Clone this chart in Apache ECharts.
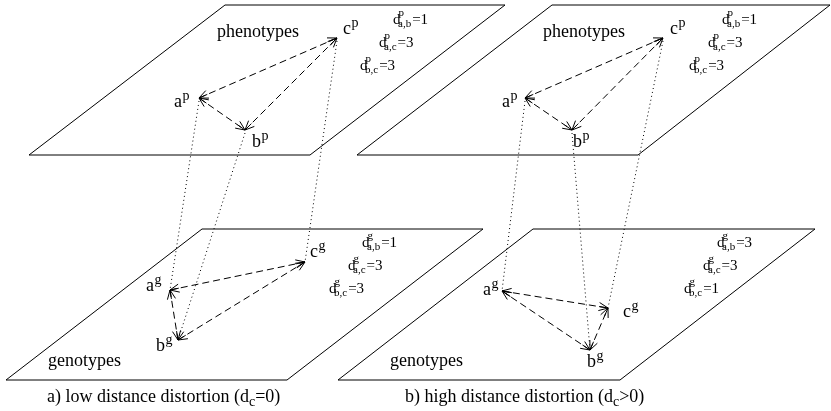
<!DOCTYPE html>
<html>
<head>
<meta charset="utf-8">
<script src="https://cdn.jsdelivr.net/npm/echarts@6/dist/echarts.min.js"></script>
<style>
  html, body { margin: 0; padding: 0; background: #fff; }
  #chart { width: 831px; height: 411px; }
</style>
</head>
<body>
<div id="chart"></div>
<script>
// ---- diagram data (plane units: x to the right, y downward) ----
const nodeNames = ['a', 'b', 'c'];
const pairs = [[0, 1], [0, 2], [1, 2]];
const pairNames = ['a,b', 'a,c', 'b,c'];

// node positions: phenotype layer and genotype layer of each panel
const phenoA = [[199, 98], [245, 130], [337, 38]];
const genoA  = [[170, 290], [178, 340], [305, 262]];
const phenoB = [[525, 98], [572, 130], [663, 38]];
const genoB  = [[502, 291], [590, 350], [608, 308]];

// pairwise distances (a,b), (a,c), (b,c)
const distPhenoA = [1, 3, 3];
const distGenoA  = [1, 3, 3];
const distPhenoB = [1, 3, 3];
const distGenoB  = [3, 3, 1];

// plane outlines
const planePhenoA = [[225, 5], [505, 5], [310, 155], [29, 155]];
const planeGenoA  = [[202, 229], [483, 229], [287, 380], [6, 380]];
const planePhenoB = [[552, 5], [830, 5], [638, 155], [357, 155]];
const planeGenoB  = [[533, 229], [815, 229], [620, 380], [338, 380]];

const layerTitles = ['phenotypes', 'genotypes'];
const captions = [
  ['a) low distance distortion (d', 'c', '=0)'],
  ['b) high distance distortion (d', 'c', '>0)']
];

// ---- layers assembled from the arrays above ----
const layers = [
  { nodes: phenoA, dist: distPhenoA, plane: planePhenoA, tag: 'p' },
  { nodes: genoA,  dist: distGenoA,  plane: planeGenoA,  tag: 'g' },
  { nodes: phenoB, dist: distPhenoB, plane: planePhenoB, tag: 'p' },
  { nodes: genoB,  dist: distGenoB,  plane: planeGenoB,  tag: 'g' }
];
const projections = [[0, 1], [2, 3]];

// ---- layout (pixel offsets for text) ----
const FONT = '"Liberation Serif", "DejaVu Serif", serif';
const labelShift = [
  [[-25, 10], [7, 18], [6, -3]],
  [[-24, 2], [-22, 12], [5, -4]],
  [[-23, 10], [1, 18], [7, -3]],
  [[-19, 5], [-3, 18], [15, 10]]
];
const distAnchor = [[393, 25], [362, 248], [722, 25], [717, 248]];
const distRowDx = [0, -14, -33];
const distRowDy = [0, 23, 46];
const titleAnchor = [[217, 38], [48, 367], [543, 38], [390, 367]];
const captionAnchor = [[47, 403], [405, 403]];

const measureCtx = document.createElement('canvas').getContext('2d');
function textWidth(str, size) {
  measureCtx.font = size + 'px ' + FONT;
  return measureCtx.measureText(str).width;
}
// text element placed by its left edge and alphabetic baseline
function txt(str, x, baseline, size) {
  return {
    type: 'text',
    style: {
      text: str, x: x, y: baseline - 0.34 * size,
      fill: '#000', fontSize: size, fontFamily: FONT,
      align: 'left', verticalAlign: 'middle'
    }
  };
}

function arrowHead(tip, from) {
  const len = 10, ang = 0.42;
  const dx = from[0] - tip[0], dy = from[1] - tip[1];
  const d = Math.hypot(dx, dy);
  const ux = dx / d, uy = dy / d;
  const rot = (a) => [tip[0] + len * (ux * Math.cos(a) - uy * Math.sin(a)),
                      tip[1] + len * (ux * Math.sin(a) + uy * Math.cos(a))];
  return [
    { type: 'polyline', shape: { points: [rot(ang), tip, rot(-ang)] },
      style: { stroke: '#000', fill: null, lineWidth: 1 } },
    { type: 'line', shape: { x1: tip[0], y1: tip[1], x2: tip[0] + len * 0.9 * ux, y2: tip[1] + len * 0.9 * uy },
      style: { stroke: '#000', lineWidth: 1 } }
  ];
}

const idx = (n) => Array.from({ length: n }, (_, i) => [i, 0]);

const chart = echarts.init(document.getElementById('chart'), null, { renderer: 'canvas' });

const option = {
  animation: false,
  backgroundColor: '#fff',
  grid: { left: 0, right: 0, top: 0, bottom: 0 },
  xAxis: { type: 'value', min: 0, max: 831, show: false },
  yAxis: { type: 'value', min: 0, max: 411, inverse: true, show: false },
  series: [
    // plane outlines
    {
      type: 'custom', silent: true, clip: false,
      data: idx(layers.length),
      renderItem: (params, api) => {
        const pts = layers[params.dataIndex].plane.map((p) => api.coord(p));
        return { type: 'polygon', shape: { points: pts },
                 style: { stroke: '#000', fill: null, lineWidth: 1 } };
      }
    },
    // dotted projections from phenotype nodes to genotype nodes
    {
      type: 'custom', silent: true, clip: false,
      data: idx(projections.length),
      renderItem: (params, api) => {
        const [top, bot] = projections[params.dataIndex];
        return {
          type: 'group',
          children: nodeNames.map((_, k) => {
            const p = api.coord(layers[top].nodes[k]);
            const q = api.coord(layers[bot].nodes[k]);
            return { type: 'line', shape: { x1: p[0], y1: p[1] + 3, x2: q[0], y2: q[1] },
                     style: { stroke: '#000', lineWidth: 1, lineDash: [1, 3] } };
          })
        };
      }
    },
    // dashed double-headed distance arrows
    {
      type: 'custom', silent: true, clip: false,
      data: idx(layers.length),
      renderItem: (params, api) => {
        const nodes = layers[params.dataIndex].nodes.map((p) => api.coord(p));
        const children = [];
        pairs.forEach(([i, j]) => {
          const p = nodes[i], q = nodes[j];
          children.push({ type: 'line', shape: { x1: p[0], y1: p[1], x2: q[0], y2: q[1] },
                          style: { stroke: '#000', lineWidth: 1, lineDash: [7, 4] } });
          children.push(...arrowHead(p, q), ...arrowHead(q, p));
        });
        return { type: 'group', children: children };
      }
    },
    // node labels, layer titles and distance tables
    {
      type: 'custom', silent: true, clip: false,
      data: idx(layers.length),
      renderItem: (params, api) => {
        const li = params.dataIndex;
        const layer = layers[li];
        const children = [];
        layer.nodes.forEach((p, k) => {
          const c = api.coord(p);
          const x = c[0] + labelShift[li][k][0];
          const y = c[1] + labelShift[li][k][1];
          children.push(txt(nodeNames[k], x, y, 18));
          children.push(txt(layer.tag, x + textWidth(nodeNames[k], 18) + 0.5, y - 7, 14));
        });
        const t = api.coord([0, 0]);
        children.push(txt(layerTitles[li % 2], titleAnchor[li][0] + t[0], titleAnchor[li][1] + t[1], 18));
        layer.dist.forEach((v, r) => {
          const x = distAnchor[li][0] + distRowDx[r] + t[0];
          const y = distAnchor[li][1] + distRowDy[r] + t[1];
          children.push(txt('d', x, y, 15));
          children.push(txt(layer.tag, x + 5.5, y - 8, 11));
          children.push(txt(pairNames[r], x + 5, y + 3, 11));
          children.push(txt('=' + v, x + 5 + textWidth(pairNames[r], 11) + 1, y, 15));
        });
        return { type: 'group', children: children };
      }
    },
    // panel captions
    {
      type: 'custom', silent: true, clip: false,
      data: idx(captions.length),
      renderItem: (params, api) => {
        const [head, sub, tail] = captions[params.dataIndex];
        const t = api.coord([0, 0]);
        const x = captionAnchor[params.dataIndex][0] + t[0];
        const y = captionAnchor[params.dataIndex][1] + t[1];
        const w1 = textWidth(head, 18), w2 = textWidth(sub, 14);
        return { type: 'group', children: [
          txt(head, x, y, 18),
          txt(sub, x + w1, y + 4, 14),
          txt(tail, x + w1 + w2, y, 18)
        ] };
      }
    }
  ]
};
chart.setOption(option);
</script>
</body>
</html>
